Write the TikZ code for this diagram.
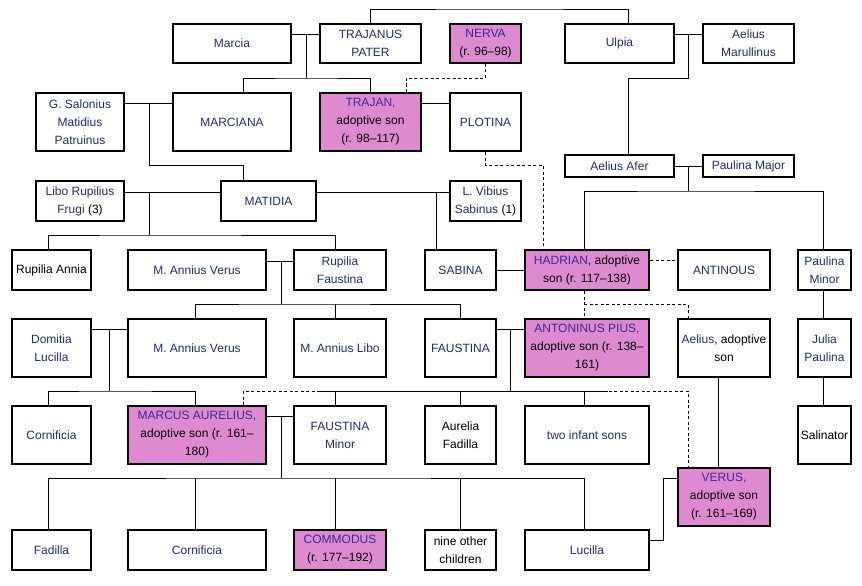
\documentclass[tikz,border=0pt]{standalone}
\usepackage{fontspec}
\setmainfont{Liberation Sans}
\usepackage{tikz}
\definecolor{namecol}{RGB}{28,46,118}
\definecolor{namepink}{RGB}{56,42,150}
\definecolor{pinkfill}{RGB}{222,138,208}
\newcommand{\nm}[1]{\textcolor{namecol}{#1}}

\begin{document}
\begin{tikzpicture}[
  x=1pt, y=-1pt,
  person/.style={draw,line width=1.8pt,fill=white,align=center,inner ysep=2pt,inner xsep=1pt,font=\fontsize{12}{18}\selectfont},
  wh/.style 2 args={minimum width=#1pt-1.8pt,minimum height=#2pt-1.8pt},
  emperor/.style={person,fill=pinkfill,execute at begin node={\colorlet{namecol}{namepink}}},
  link/.style={line width=0.9pt},
  adopt/.style={line width=0.9pt,dash pattern=on 3pt off 2.5pt}
]
\useasboundingbox (0,0) rectangle (862,586);
\fill[white] (0,0) rectangle (862,586);

% generation 1
\node[person,wh={120}{41}] (marcia) at (232,43.5) {\nm{Marcia}};
\node[person,wh={103}{41}] (tpater) at (370.5,43.5) {\nm{TRAJANUS}\\\nm{PATER}};
\node[emperor,wh={73}{41}] (nerva) at (485.5,43.5) {\nm{NERVA}\\(r. 96–98)};
\node[person,wh={111}{41}] (ulpia) at (619.5,43.5) {\nm{Ulpia}};
\node[person,wh={93}{41}] (marullinus) at (748.5,43.5) {\nm{Aelius}\\\nm{Marullinus}};

% generation 2
\node[person,wh={90}{60}] (salonius) at (80,122) {\nm{G. Salonius}\\\nm{Matidius}\\\nm{Patruinus}};
\node[person,wh={120}{60}] (marciana) at (232,122) {\nm{MARCIANA}};
\node[emperor,wh={103}{60}] (trajan) at (370.5,122) {\nm{TRAJAN,}\\adoptive son\\(r. 98–117)};
\node[person,wh={73}{60}] (plotina) at (485.5,122) {\nm{PLOTINA}};
\node[person,wh={111}{24}] (afer) at (619.5,166) {\nm{Aelius Afer}};
\node[person,wh={93}{24}] (pmajor) at (748.5,166) {\nm{Paulina Major}};

% generation 3
\node[person,wh={90}{42}] (libo) at (80,201) {\nm{Libo Rupilius}\\\nm{Frugi} (3)};
\node[person,wh={97}{42}] (matidia) at (268.5,201) {\nm{MATIDIA}};
\node[person,wh={73}{42}] (vibius) at (485.5,201) {\nm{L. Vibius}\\\nm{Sabinus} (1)};

% generation 4
\node[person,wh={81}{42}] (rannia) at (51.5,270) {Rupilia Annia};
\node[person,wh={140}{42}] (verus1) at (197,270) {\nm{M. Annius Verus}};
\node[person,wh={94}{42}] (rfaustina) at (340,270) {\nm{Rupilia}\\\nm{Faustina}};
\node[person,wh={73}{42}] (sabina) at (460.5,270) {\nm{SABINA}};
\node[emperor,wh={126}{42}] (hadrian) at (587,270) {\nm{HADRIAN}, adoptive\\son (r. 117–138)};
\node[person,wh={94}{42}] (antinous) at (724,270) {\nm{ANTINOUS}};
\node[person,wh={55}{42}] (pminor) at (824.5,270) {\nm{Paulina}\\\nm{Minor}};

% generation 5
\node[person,wh={81}{60}] (dlucilla) at (51.5,348) {\nm{Domitia}\\\nm{Lucilla}};
\node[person,wh={140}{60}] (verus2) at (197,348) {\nm{M. Annius Verus}};
\node[person,wh={94}{60}] (libo2) at (340,348) {\nm{M. Annius Libo}};
\node[person,wh={73}{60}] (faustina) at (460.5,348) {\nm{FAUSTINA}};
\node[emperor,wh={126}{60}] (antoninus) at (587,348) {\nm{ANTONINUS PIUS,}\\adoptive son (r. 138–\\161)};
\node[person,wh={94}{60}] (aelius) at (724,348) {\nm{Aelius}, adoptive\\son};
\node[person,wh={55}{60}] (jpaulina) at (824.5,348) {\nm{Julia}\\\nm{Paulina}};

% generation 6
\node[person,wh={81}{60}] (cornificia1) at (51.5,435) {\nm{Cornificia}};
\node[emperor,wh={140}{60}] (marcus) at (197,435) {\nm{MARCUS AURELIUS,}\\adoptive son (r. 161–\\180)};
\node[person,wh={94}{60}] (fminor) at (340,435) {\nm{FAUSTINA}\\\nm{Minor}};
\node[person,wh={73}{60}] (afadilla) at (460.5,435) {Aurelia\\Fadilla};
\node[person,wh={126}{60}] (infants) at (587,435) {\nm{two infant sons}};
\node[person,wh={55}{60}] (salinator) at (824.5,435) {Salinator};
\node[emperor,wh={94}{60}] (verus) at (724,497) {\nm{VERUS,}\\adoptive son\\(r. 161–169)};

% generation 7
\node[person,wh={81}{42}] (fadilla) at (51.5,550) {\nm{Fadilla}};
\node[person,wh={140}{42}] (cornificia2) at (197,550) {\nm{Cornificia}};
\node[emperor,wh={94}{42}] (commodus) at (340,550) {\nm{COMMODUS}\\(r. 177–192)};
\node[person,wh={73}{42}] (nine) at (460.5,550) {nine other\\children};
\node[person,wh={126}{42}] (lucilla) at (587,550) {\nm{Lucilla}};

% junctions
\coordinate (mt) at (306,34);
\coordinate (mtb) at (306,78);
\coordinate (topline) at (500,9);
\coordinate (um) at (688,34);
\coordinate (umb) at (688,78);
\coordinate (sm) at (149,103);
\coordinate (smb) at (149,165);
\coordinate (nt) at (406,78);
\coordinate (ph) at (543,165);
\coordinate (ap) at (688,166);
\coordinate (apb) at (688,191);
\coordinate (lm) at (149,192);
\coordinate (lmb) at (149,235);
\coordinate (sv) at (436,192);
\coordinate (vr) at (281,261);
\coordinate (vrb) at (281,304);
\coordinate (lb) at (335,304);
\coordinate (ha) at (584,304);
\coordinate (dv) at (109,329);
\coordinate (dvb) at (109,391);
\coordinate (fa) at (510,329);
\coordinate (fab) at (510,391);
\coordinate (fal) at (317,391);
\coordinate (far) at (608,391);
\coordinate (mv) at (688,391);
\coordinate (mf) at (281,416);
\coordinate (mfb) at (281,478);
\coordinate (lv) at (663,478);

% adoptions and other ties
\draw[adopt] (nerva.south) |- (nt) -- (nt |- trajan.north);
\draw[adopt] (plotina.south) |- (ph) -- (ph |- hadrian.north);
\draw[adopt] ([yshift=10pt]hadrian.east) -- ([yshift=10pt]antinous.west);
\draw[adopt] ([xshift=-3pt]hadrian.south) -- ([xshift=-3pt]antoninus.north);
\draw[adopt] (ha) -| ([xshift=-36pt]aelius.north);
\draw[adopt] ([xshift=46pt]marcus.north) |- (mv) -- (mv |- verus.north);

% families
\draw[link] (marcia.east |- mt) -- (tpater.west |- mt);
\draw[link] (mt) -- (mtb);
\draw[link] ([xshift=11pt]marciana.north) |- (mtb) -| (trajan.north);
\draw[link] (tpater.north) |- (topline) -| ([xshift=8.5pt]ulpia.north);
\draw[link] (ulpia.east |- um) -- (marullinus.west |- um);
\draw[link] (um) -- (umb) -| ([xshift=8.5pt]afer.north);
\draw[link] (salonius.east |- sm) -- (marciana.west |- sm);
\draw[link] (sm) -- (smb) -| ([xshift=-25.5pt]matidia.north);
\draw[link] (trajan.east |- sm) -- (plotina.west |- sm);
\draw[link] (afer.east |- ap) -- (pmajor.west |- ap);
\draw[link] (ap) -- (apb);
\draw[link] ([xshift=-3pt]hadrian.north) |- (apb) -| ([xshift=-1.5pt]pminor.north);
\draw[link] (libo.east |- lm) -- (matidia.west |- lm);
\draw[link] (lm) -- (lmb);
\draw[link] ([xshift=-3.5pt]rannia.north) |- (lmb) -| ([xshift=-5pt]rfaustina.north);
\draw[link] (matidia.east |- lm) -- (vibius.west |- lm);
\draw[link] (sv) -- (sv |- sabina.north);
\draw[link] (sabina) -- (hadrian);
\draw[link] (verus1.east |- vr) -- (rfaustina.west |- vr);
\draw[link] (vr) -- (vrb);
\draw[link] ([xshift=-2pt]verus2.north) |- (vrb) -| (faustina.north);
\draw[link] (lb) -- (lb |- libo2.north);
\draw[link] ([xshift=-1.5pt]pminor.south) -- ([xshift=-1.5pt]jpaulina.north);
\draw[link] ([xshift=-1.5pt]jpaulina.south) -- ([xshift=-1.5pt]salinator.north);
\draw[link] (dlucilla.east |- dv) -- (verus2.west |- dv);
\draw[link] (dv) -- (dvb);
\draw[link] ([xshift=-3.5pt]cornificia1.north) |- (dvb) -| ([xshift=-2pt]marcus.north);
\draw[link] (faustina.east |- fa) -- (antoninus.west |- fa);
\draw[link] (fa) -- (fab);
\draw[link] (fal) -- (far);
\draw[link] ([xshift=-5pt]fminor.north) -- ([xshift=-5pt]fminor.north |- fab);
\draw[link] (afadilla.north) -- (afadilla.north |- fab);
\draw[link] ([xshift=-3pt]infants.north) -- ([xshift=-3pt]infants.north |- fab);
\draw[link] ([xshift=-6pt]aelius.south) -- ([xshift=-6pt]verus.north);
\draw[link] (marcus.east |- mf) -- (fminor.west |- mf);
\draw[link] (mf) -- (mfb);
\draw[link] ([xshift=-3.5pt]fadilla.north) |- (mfb) -| ([xshift=-3pt]lucilla.north);
\draw[link] ([xshift=-2pt]cornificia2.north) -- ([xshift=-2pt]cornificia2.north |- mfb);
\draw[link] ([xshift=-5pt]commodus.north) -- ([xshift=-5pt]commodus.north |- mfb);
\draw[link] (nine.north) -- (nine.north |- mfb);
\draw[link] ([yshift=10pt]lucilla.east) -| (lv) -- (verus.west |- lv);
\end{tikzpicture}
\end{document}
